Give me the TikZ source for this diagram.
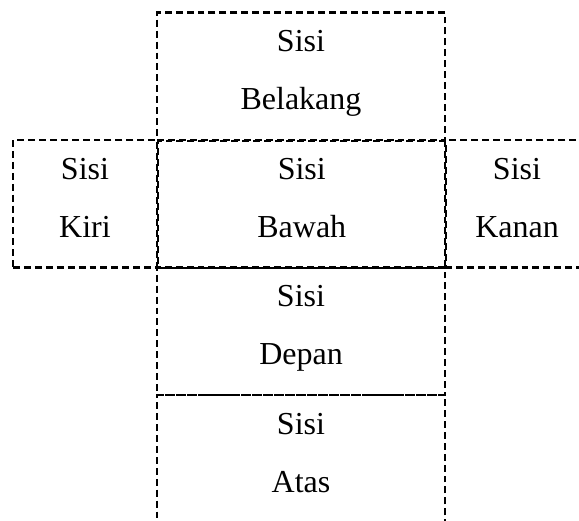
\documentclass[tikz,border=0pt]{standalone}
\usepackage{fontspec}
\setmainfont{Liberation Serif}
\begin{document}
\begin{tikzpicture}[x=0.375pt,y=-0.375pt,
  netline/.style={draw=black, line width=0.8pt, dash pattern=on 2.6pt off 1.5pt},
  face/.style={netline, rectangle, inner sep=0pt, minimum height=47.8pt},
  midface/.style={face, minimum width=108pt},
  sideface/.style={face, minimum width=54pt},
  facetext/.style={anchor=base, font=\fontsize{12}{14}\selectfont, inner sep=0pt}]
\useasboundingbox (0,0) rectangle (579,520);
\clip (0,0) rectangle (579,520);
% faces of the cube net
\node[midface]  (belakang) at (301,76.25)  {};
\node[sideface] (kiri)     at (85,203.75)  {};
\node[sideface] (kanan)    at (517,203.75) {};
\node[midface]  (depan)    at (301,331.25) {};
\node[midface]  (atas)     at (301,458.75) {};
\node[midface]  (bawah)    at (301.8,204.5) {};
% labels, two lines per face
\node[facetext] (belakang1) at ([yshift=-15.1pt]belakang.north) {Sisi};
\node[facetext] (belakang2) at ([yshift=-36.8pt]belakang.north) {Belakang};
\node[facetext] (kiri1)     at ([yshift=-15.1pt]kiri.north) {Sisi};
\node[facetext] (kiri2)     at ([yshift=-36.8pt]kiri.north) {Kiri};
\node[facetext] (bawah1)    at ([yshift=-15.1pt]bawah.north) {Sisi};
\node[facetext] (bawah2)    at ([yshift=-36.8pt]bawah.north) {Bawah};
\node[facetext] (kanan1)    at ([yshift=-15.1pt]kanan.north) {Sisi};
\node[facetext] (kanan2)    at ([yshift=-36.8pt]kanan.north) {Kanan};
\node[facetext] (depan1)    at ([yshift=-15.1pt]depan.north) {Sisi};
\node[facetext] (depan2)    at ([yshift=-36.8pt]depan.north) {Depan};
\node[facetext] (atas1)     at ([yshift=-15.1pt]atas.north) {Sisi};
\node[facetext] (atas2)     at ([yshift=-36.8pt]atas.north) {Atas};
\end{tikzpicture}
\end{document}
